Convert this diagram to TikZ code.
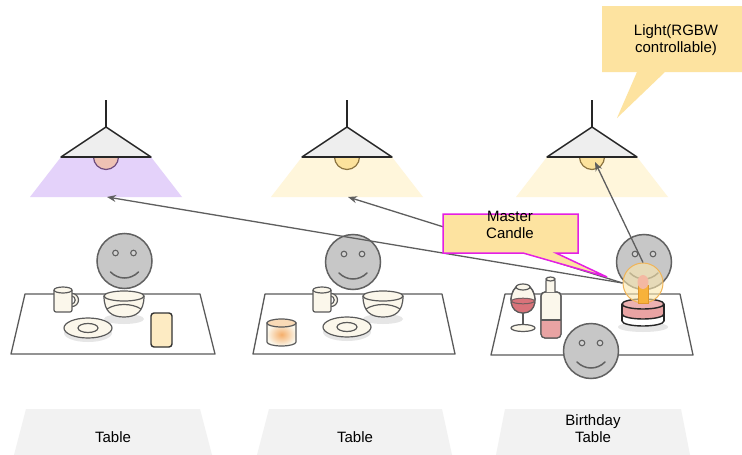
\documentclass[tikz,border=0pt]{standalone}
\usepackage{fontspec}
\setmainfont{Liberation Sans}
\usetikzlibrary{arrows.meta}

\definecolor{shadefill}{HTML}{EEEEEE}
\definecolor{violetlight}{HTML}{E4D2FA}
\definecolor{warmlight}{HTML}{FFF6DB}
\definecolor{pinkbulb}{HTML}{EEC2B4}
\definecolor{pinkbulbedge}{HTML}{6E4C7E}
\definecolor{yellowbulb}{HTML}{FCE29C}
\definecolor{yellowbulbedge}{HTML}{8C7440}
\definecolor{facegray}{HTML}{C7C7C7}
\definecolor{faceedge}{HTML}{616161}
\definecolor{linegray}{HTML}{5E5E5E}
\definecolor{wareedge}{HTML}{5A5A5A}
\definecolor{cream}{HTML}{FBF7EB}
\definecolor{shadowgray}{HTML}{E6E6E6}
\definecolor{calloutfill}{HTML}{FDE3A0}
\definecolor{magentaedge}{HTML}{E41FE4}
\definecolor{labelgray}{HTML}{F2F2F2}
\definecolor{wine}{HTML}{D9737A}
\definecolor{rosepink}{HTML}{E9A3A3}
\definecolor{candleorange}{HTML}{F7B23B}
\definecolor{candleedge}{HTML}{E0962A}
\definecolor{flamepink}{HTML}{F4B8A2}
\definecolor{phonefill}{HTML}{FDEBC3}
\definecolor{glowfill}{HTML}{FCE8AE}
\definecolor{glowedge}{HTML}{F0B458}
\definecolor{jarglow}{HTML}{F5AE6A}

\tikzset{
  lampline/.style={draw=black!85, line width=1.5pt, line join=round},
  ware/.style={draw=wareedge, line width=1.2pt, fill=cream},
  tableline/.style={draw=wareedge, line width=1.3pt, fill=white, line join=round},
  arrowline/.style={draw=linegray, line width=1.3pt, -{Stealth[length=9pt,width=7pt]}},
  cakeline/.style={draw=black!85, line width=1.4pt},
  smiley/.pic={
    \draw[draw=faceedge, line width=1.5pt, fill=facegray] (0,0) circle[radius=27.5pt];
    \draw[draw=faceedge, line width=1.1pt, fill=facegray!80] (-9,-8) circle[radius=2.8pt];
    \draw[draw=faceedge, line width=1.1pt, fill=facegray!80] (9,-8) circle[radius=2.8pt];
    \draw[draw=faceedge, line width=1.5pt, line cap=round]
      (-14,11) .. controls (-6,19) and (6,19) .. (14,11);
  }
}

% hanging lamp: #1 centre x, #2 light colour, #3 bulb fill, #4 bulb edge
\newcommand\hanglamp[4]{%
  \fill[#2] (#1-45,157) -- (#1+45,157) -- (#1+76,197) -- (#1-76,197) -- cycle;
  \draw[lampline] (#1,100) -- (#1,128);
  \draw[lampline, fill=shadefill] (#1,127) -- (#1+45,157) -- (#1-45,157) -- cycle;
  \draw[draw=#4, line width=1.2pt, fill=#3]
    (#1-12.5,157) arc[start angle=180, end angle=360, radius=12.5pt];
  \draw[lampline] (#1+45,157) -- (#1-45,157);
}

% cup with handle: #1 left x, #2 top y
\newcommand\mug[2]{%
  \draw[ware] (#1+18,#2+10) ellipse[x radius=6.5pt, y radius=6.5pt];
  \draw[draw=wareedge, line width=1.2pt, fill=white] (#1+18,#2+10) ellipse[x radius=3.2pt, y radius=3.8pt];
  \draw[ware, rounded corners=2pt] (#1,#2) -- (#1,#2+22) -- (#1+18,#2+22) -- (#1+18,#2);
  \draw[ware] (#1+9,#2) ellipse[x radius=9pt, y radius=3pt];
}

% bowl: #1 centre x, #2 rim y
\newcommand\bowl[2]{%
  \fill[shadowgray] (#1,#2+23) ellipse[x radius=20pt, y radius=5pt];
  \draw[ware] (#1-20,#2) .. controls (#1-20,#2+16) and (#1-12,#2+21) .. (#1,#2+21)
    .. controls (#1+12,#2+21) and (#1+20,#2+16) .. (#1+20,#2);
  \draw[draw=wareedge, line width=1.2pt]
    (#1-17,#2+13) .. controls (#1-8,#2+7) and (#1+8,#2+7) .. (#1+17,#2+13);
  \draw[ware] (#1,#2) ellipse[x radius=20pt, y radius=5pt];
}

% saucer: #1 centre x, #2 centre y
\newcommand\saucer[2]{%
  \fill[shadowgray] (#1,#2+5) ellipse[x radius=24pt, y radius=9pt];
  \draw[ware] (#1,#2) ellipse[x radius=24pt, y radius=10pt];
  \draw[ware] (#1,#2) ellipse[x radius=10pt, y radius=4.5pt];
}

\begin{document}
\begin{tikzpicture}[x=1pt, y=-1pt, font=\fontsize{15}{17}\selectfont]
\useasboundingbox (0,0) rectangle (742,455);
\fill[white] (0,0) rectangle (742,455);

% lamps
\hanglamp{106}{violetlight}{pinkbulb}{pinkbulbedge}
\hanglamp{347}{warmlight}{yellowbulb}{yellowbulbedge}
\hanglamp{592}{warmlight}{yellowbulb}{yellowbulbedge}
\coordinate (tipA) at (107,197);
\coordinate (tipB) at (348,197);
\coordinate (bulbC) at (595,162);

% labels under the tables
\fill[labelgray] (26,409) -- (200,409) -- (212,455) -- (14,455) -- cycle;
\fill[labelgray] (269,409) -- (442,409) -- (452,455) -- (257,455) -- cycle;
\fill[labelgray] (505,409) -- (681,409) -- (690,455) -- (496,455) -- cycle;
\node (labA) at (113,437) {Table};
\node (labB) at (355,437) {Table};
\node[align=center, inner sep=0pt] (labC) at (593,429) {Birthday\\Table};

% guests behind the tables
\pic at (124.5,261) {smiley};
\pic at (353,262) {smiley};
\pic at (644,262) {smiley};

% table tops
\draw[tableline] (25,294) -- (200,294) -- (215,354) -- (11,354) -- cycle;
\draw[tableline] (265,294) -- (442,294) -- (455,354) -- (253,354) -- cycle;
\draw[tableline] (505,294) -- (680,294) -- (693,355) -- (491,355) -- cycle;

% first table
\mug{54}{290}
\bowl{124}{296}
\saucer{88}{328}
\draw[draw=black!80, line width=1.4pt, fill=phonefill, rounded corners=3pt] (151,313) rectangle (172,347);

% second table
\mug{313}{290}
\bowl{383}{296}
\saucer{347}{327}
\shade[inner color=jarglow, outer color=cream, draw=wareedge, line width=1.2pt]
  (267,323) -- (267,342) arc[start angle=180, end angle=360, x radius=14.5pt, y radius=4pt] -- (296,323) -- cycle;
\draw[draw=wareedge, line width=1.2pt, fill=cream!60!jarglow] (281.5,323) ellipse[x radius=14.5pt, y radius=4pt];

% birthday table: wine glass
\draw[draw=wareedge, line width=1.2pt] (523,313) -- (523,327);
\draw[ware] (523,328) ellipse[x radius=12pt, y radius=3.5pt];
\draw[ware] (516,287) .. controls (508,295) and (509,313) .. (523,313)
  .. controls (537,313) and (538,295) .. (530,287) -- cycle;
\begin{scope}
  \clip (516,287) .. controls (508,295) and (509,313) .. (523,313)
    .. controls (537,313) and (538,295) .. (530,287) -- cycle;
  \fill[wine] (500,301) rectangle (545,320);
\end{scope}
\draw[draw=wareedge, line width=1.2pt] (516,287) .. controls (508,295) and (509,313) .. (523,313)
  .. controls (537,313) and (538,295) .. (530,287);
\draw[draw=wareedge!80!wine, line width=1pt, fill=wine] (523,301) ellipse[x radius=11.5pt, y radius=2.8pt];
\draw[ware] (523,287) ellipse[x radius=7pt, y radius=3pt];

% birthday table: bottle
\draw[ware, rounded corners=4pt] (541,292) rectangle (561,338);
\begin{scope}
  \clip[rounded corners=4pt] (541,292) rectangle (561,338);
  \fill[rosepink] (538,320) rectangle (564,340);
\end{scope}
\draw[draw=wareedge, line width=1.2pt, rounded corners=4pt] (541,292) rectangle (561,338);
\draw[draw=wareedge, line width=1.2pt] (541,320) -- (561,320);
\draw[ware, rounded corners=2pt] (546,292) -- (546,279) -- (555,279) -- (555,292);
\draw[ware] (550.5,279) ellipse[x radius=4.5pt, y radius=2pt];

% birthday table: cake
\fill[shadowgray] (643,327) ellipse[x radius=25pt, y radius=5pt];
\draw[cakeline, fill=white] (622,304) -- (622,321)
  arc[start angle=180, end angle=360, x radius=21pt, y radius=5pt] -- (664,304);
\fill[rosepink] (622,304) -- (622,314)
  arc[start angle=180, end angle=360, x radius=21pt, y radius=5pt] -- (664,304) -- cycle;
\draw[cakeline] (622,314) arc[start angle=180, end angle=360, x radius=21pt, y radius=5pt];
\draw[cakeline] (622,304) -- (622,321) (664,304) -- (664,321);
\draw[cakeline, fill=rosepink!85] (643,304) ellipse[x radius=21pt, y radius=5pt];

% master candle and its glow
\node[circle, minimum size=40pt, inner sep=0pt, fill=glowfill, fill opacity=0.6,
  draw=glowedge, line width=1pt] (glow) at (643,283) {};
\draw[draw=candleedge, line width=0.8pt, fill=candleorange] (638,285) rectangle (648,303);
\fill[flamepink] (643,282) ellipse[x radius=5.5pt, y radius=7pt];

% guest in front of the birthday table
\pic at (591,351) {smiley};

% control links from the master candle
\draw[arrowline] (glow.west) -- (tipA);
\draw[arrowline] (glow.west) -- (tipB);
\draw[arrowline] (glow.north) -- (bulbC);

% callouts
\draw[draw=magentaedge, line width=1.5pt, fill=calloutfill, line join=miter]
  (443,214) -- (578,214) -- (578,253) -- (556,253) -- (607,277) -- (523,253) -- (443,253) -- cycle;
\node[align=center, inner sep=0pt] (mastertext) at (510,225) {Master\\Candle};

\fill[calloutfill] (602,6) -- (742,6) -- (742,72) -- (665,72) -- (617,118) -- (637,72) -- (602,72) -- cycle;
\node[align=center, inner sep=0pt] (lighttext) at (676,40) {Light(RGBW\\controllable)};
\end{tikzpicture}
\end{document}
